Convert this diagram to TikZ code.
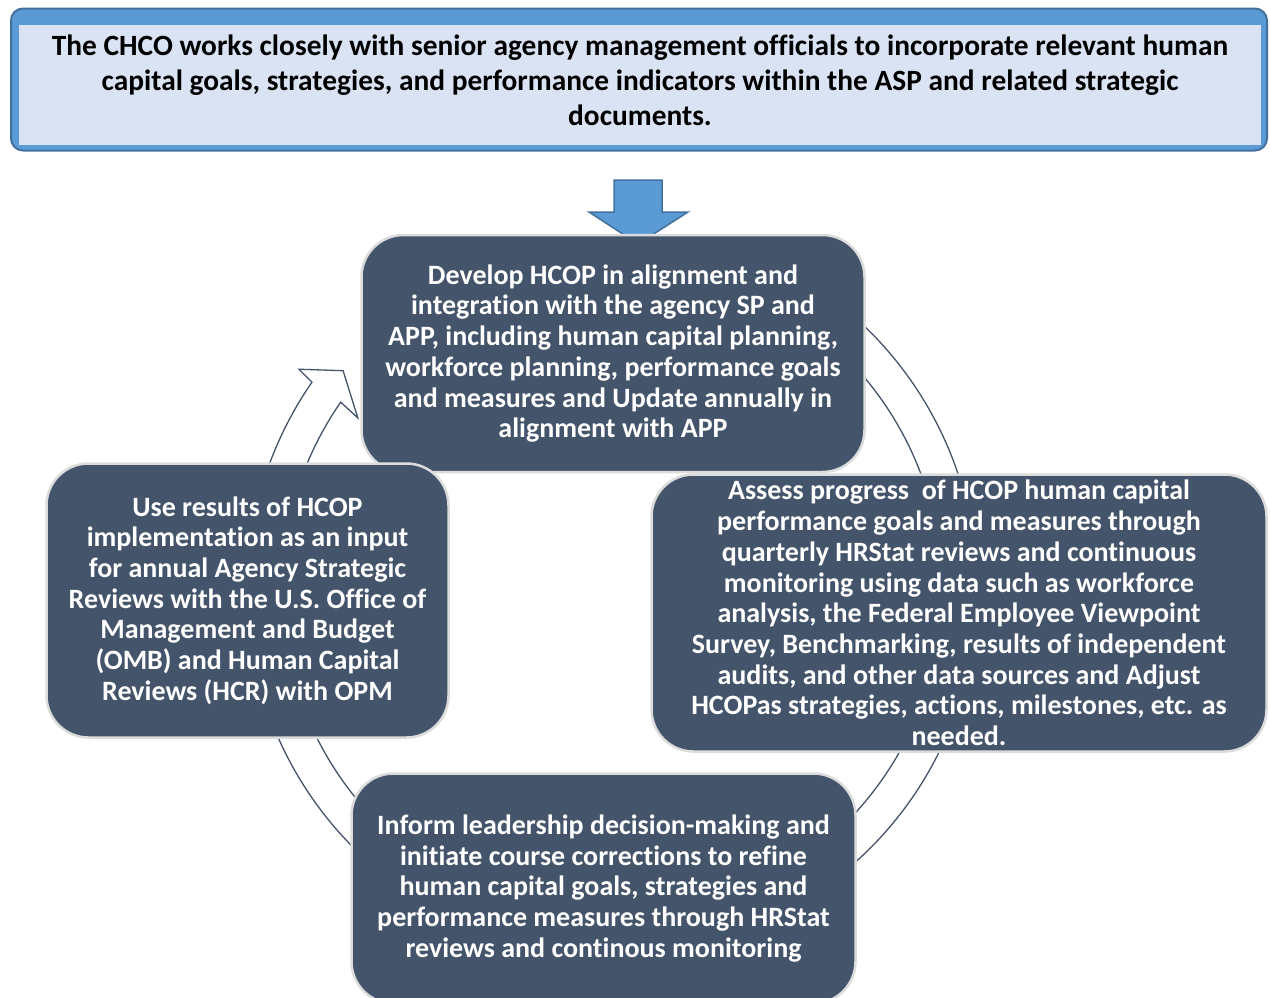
\documentclass[tikz,border=0pt]{standalone}
\usepackage{fontspec}
\setmainfont{Carlito}[Ligatures={NoCommon}, Contextuals={NoAlternate}]
\usetikzlibrary{calc}
\definecolor{slate}{HTML}{44546A}
\definecolor{bandblue}{HTML}{5B9BD5}
\definecolor{bandedge}{HTML}{41719C}
\definecolor{paleblue}{HTML}{DAE3F3}
\definecolor{rimgray}{HTML}{DCDCDC}
\begin{document}
\begin{tikzpicture}[x=1pt,y=-1pt,
  stagebox/.style={draw=rimgray, line width=2.5pt, fill=slate, rounded corners=42pt,
    text=white, align=center, inner sep=0pt,
    font=\fontsize{28pt}{30.7pt}\selectfont\bfseries},
  ringarrow/.style={draw=slate, line width=1.3pt, fill=white},
  bluearrow/.style={draw=bandedge, line width=1.5pt, fill=bandblue}]
\useasboundingbox (0,0) rectangle (1270,997);
% header
\node[draw=bandedge, line width=2pt, fill=bandblue, rounded corners=12pt,
      minimum width=1256pt, minimum height=142pt, inner sep=0pt] (hdr) at (639,79.5) {};
\node[fill=paleblue, minimum width=1242pt, minimum height=120pt, inner sep=0pt] (hdrin) at (640,85) {};
\node[align=center, inner sep=0pt, font=\fontsize{29.4pt}{35pt}\selectfont\bfseries] (hdrtext) at (640,80)
  {The CHCO works closely with senior agency management officials to incorporate relevant human\\
   capital goals, strategies, and performance indicators within the ASP and related strategic\\
   documents.};
% down arrow
\coordinate (arrtop) at (638,180);
\draw[bluearrow] ($(arrtop)+(-24,0)$) -- ($(arrtop)+(24,0)$) -- ($(arrtop)+(24,32)$) -- ($(arrtop)+(50,32)$)
  -- ($(arrtop)+(0,64)$) -- ($(arrtop)+(-49,32)$) -- ($(arrtop)+(-24,32)$) -- cycle;
% circular arrow
\coordinate (ctr) at (612,590);
\filldraw[ringarrow] ($(ctr)+(70:365pt)$) arc[start angle=70, end angle=-214.7, radius=365pt]
  -- ($(ctr)+(144.8:383pt)$) -- ($(ctr)+(140.8:347pt)$) -- ($(ctr)+(145.9:307pt)$)
  -- ($(ctr)+(-214.7:330pt)$) arc[start angle=-214.7, end angle=70, radius=330pt] -- cycle;
% stages
\node[stagebox, minimum width=503pt, minimum height=237pt] (plan) at (613,353.5)
  {Develop HCOP in alignment and\\
   integration with the agency SP and\\
   APP, including human capital planning,\\
   workforce planning, performance goals\\
   and measures and Update annually in\\
   alignment with APP};
\node[stagebox, minimum width=504pt, minimum height=230pt] (inform) at (603.5,888.5)
  {Inform leadership decision-making and\\
   initiate course corrections to refine\\
   human capital goals, strategies and\\
   performance measures through HRStat\\
   reviews and continous monitoring};
\node[stagebox, minimum width=402pt, minimum height=274pt] (review) at (247.5,600.5)
  {Use results of HCOP\\
   implementation as an input\\
   for annual Agency Strategic\\
   Reviews with the U.S. Office of\\
   Management and Budget\\
   (OMB) and Human Capital\\
   Reviews (HCR) with OPM};
\node[stagebox, minimum width=615pt, minimum height=277pt] (assess) at (959,613)
  {Assess progress~ of HCOP human capital\\
   performance goals and measures through\\
   quarterly HRStat reviews and continuous\\
   monitoring using data such as workforce\\
   analysis, the Federal Employee Viewpoint\\
   Survey, Benchmarking, results of independent\\
   audits, and other data sources and Adjust\\
   HCOPas strategies, actions, milestones, etc. as\\
   needed.};
\end{tikzpicture}
\end{document}
